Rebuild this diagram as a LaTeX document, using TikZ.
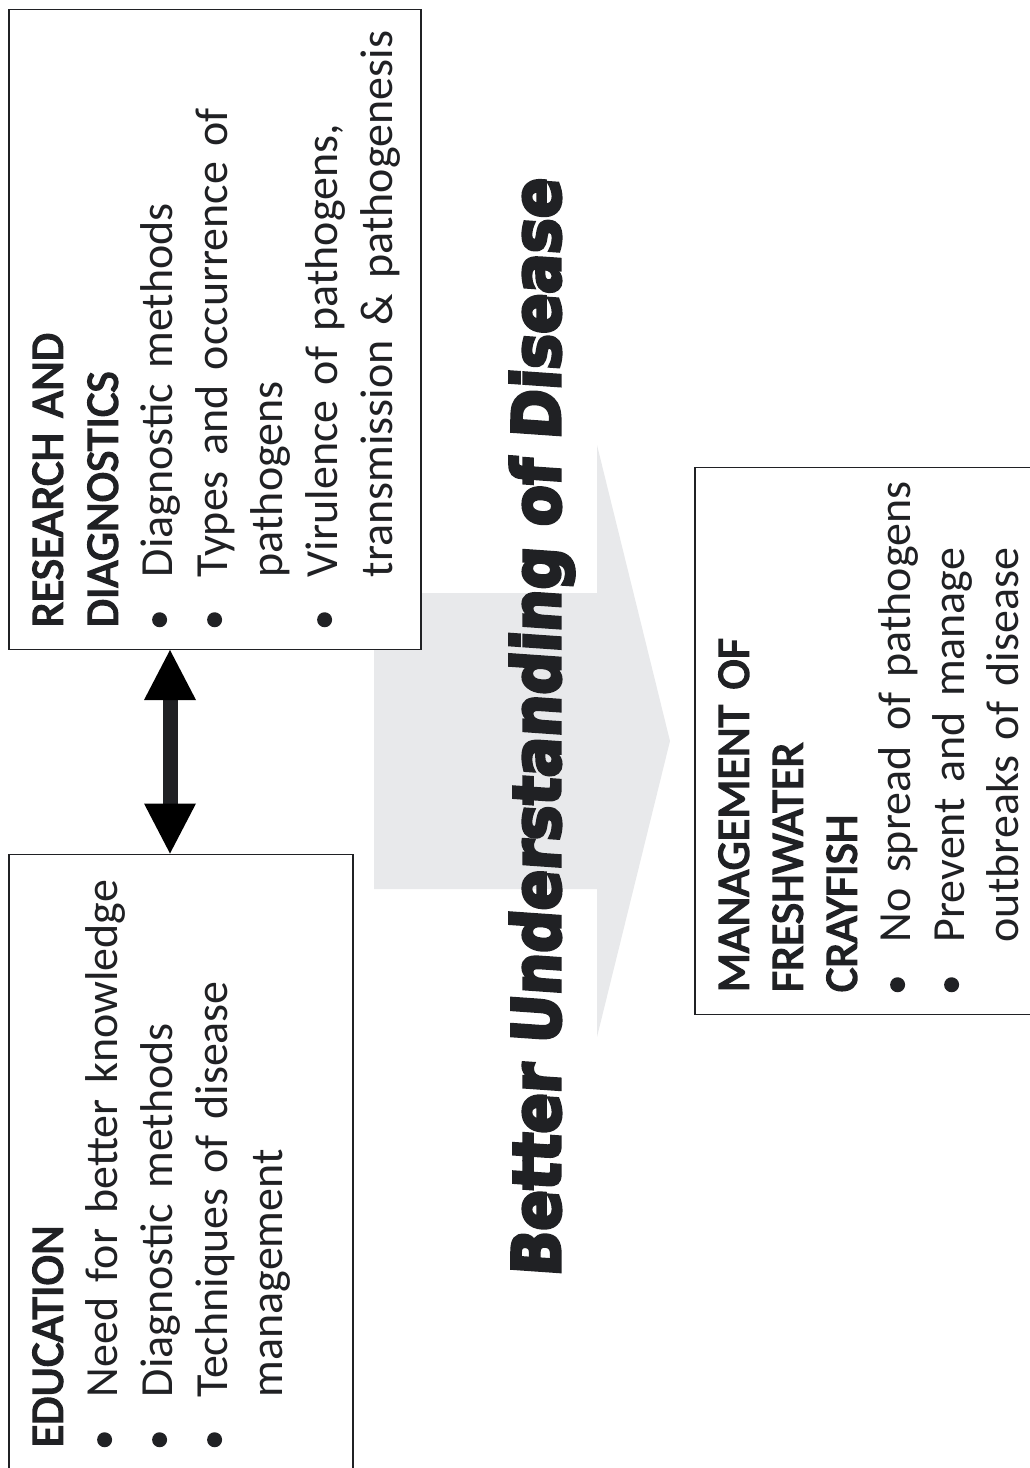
\documentclass[tikz,border=0pt]{standalone}
\usepackage{fontspec}
\setmainfont{Carlito}
\newfontfamily\headfont{Carlito}[FakeBold=3.5]
\newfontfamily\heavyfont{DejaVu Sans Bold}[FakeBold=5,FakeSlant=0.07,FakeStretch=0.9]
\usetikzlibrary{arrows.meta}
\definecolor{ink}{HTML}{202124}
\definecolor{flowgrey}{HTML}{E8E9EB}
\newcommand\bul{\tikz[baseline=-13pt]\fill[ink] (0,0) circle (7.5pt);}
\newcommand\pitem[1]{\par\noindent\hangindent=50pt\hangafter=1\makebox[50pt][l]{\bul}#1}
\newcommand\boxtext[2]{\parbox[c][#1][t]{\linewidth}{\leftskip=22pt\rightskip=0pt plus 1fil\parindent=0pt #2}}

\begin{document}
\begin{tikzpicture}[x=1pt,y=-1pt,
  every node/.style={text=ink, font=\fontsize{46}{55}\selectfont},
  infobox/.style={draw=ink, line width=1.5pt, fill=white, rotate=90, anchor=north west, inner xsep=0pt, inner ysep=24pt},
  dblarrow/.style={draw=ink, line width=15pt, {Triangle[length=50pt,width=52pt,line width=0pt]}-{Triangle[length=50pt,width=52pt,line width=0pt]}}]
\useasboundingbox (0,0) rectangle (1029,1468);
\fill[flowgrey] (374,593) -- (597,593) -- (597,445) -- (670,741) -- (597,1037) -- (597,889) -- (374,889) -- cycle;
\node[infobox, text width=640pt] (rd) at (8,650) {\boxtext{364pt}{{\headfont RESEARCH AND\newline DIAGNOSTICS}
\pitem{Diagnostic methods}
\pitem{Types and occurrence of\newline pathogens}
\pitem{Virulence of pathogens,\newline transmission \& pathogenesis}}};
\node[infobox, text width=615pt] (edu) at (8,1470) {\boxtext{296pt}{{\headfont EDUCATION}
\pitem{Need for better knowledge}
\pitem{Diagnostic methods}
\pitem{Techniques of disease\newline management}}};
\node[infobox, text width=547pt, font=\fontsize{46}{54}\selectfont] (mgmt) at (694,1015) {\boxtext{332pt}{{\headfont MANAGEMENT OF\newline FRESHWATER\newline CRAYFISH}
\pitem{No spread of pathogens}
\pitem{Prevent and manage\newline outbreaks of disease}}};
\node[rotate=90, anchor=base, font=\heavyfont\fontsize{66}{70}\selectfont] (bud) at (560,728) {Better Understanding of Disease};
\coordinate (ax) at (170,0);
\draw[dblarrow] (ax |- rd.north west) -- (ax |- edu.north east);
\end{tikzpicture}
\end{document}
